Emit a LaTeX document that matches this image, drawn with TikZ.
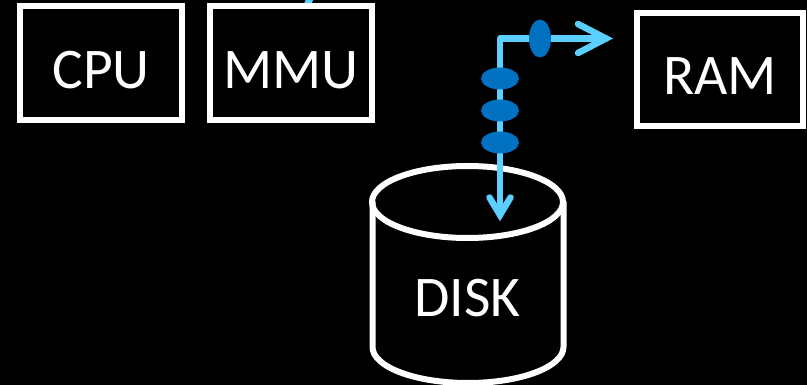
\documentclass[tikz,border=0pt]{standalone}
\usepackage{fontspec}
\setmainfont{Carlito}
\usetikzlibrary{shapes.geometric,calc}
\definecolor{wire}{HTML}{5BCFFF}
\definecolor{packet}{HTML}{0070C0}
\tikzset{
  box/.style={draw=white,line width=6pt,fill=black,minimum width=162pt,minimum height=113.5pt,inner sep=0pt,text=white,font=\fontsize{57.5}{57.5}\selectfont},
  label/.style={text=white,inner sep=0pt,font=\fontsize{57.5}{57.5}\selectfont},
  wireline/.style={draw=wire,line width=6.5pt,line cap=round,line join=round},
  packetv/.style={ellipse,fill=packet,minimum width=38pt,minimum height=22pt,inner sep=0pt},
  packeth/.style={ellipse,fill=packet,minimum width=22pt,minimum height=38pt,inner sep=0pt},
  drum/.style={draw=white,line width=6pt,line cap=round}
}
\begin{document}
\begin{tikzpicture}[x=1pt,y=-1pt]
\useasboundingbox[fill=black] (0,0) rectangle (807,385);
\clip (0,0) rectangle (807,385);
% fragment of a connector entering the MMU from above
\coordinate (fragA) at (311,-3);
\coordinate (fragB) at (305,9);
\draw[wireline,line cap=butt] (fragA) -- (fragB);
% boxes
\node[box] (cpu) at (101,63.25) {\raisebox{-25pt}[0pt][0pt]{CPU}};
\node[box] (mmu) at (291,63.25) {\raisebox{-25pt}[0pt][0pt]{MMU}};
\node[box,minimum width=166pt] (ram) at (720,69.75) {\raisebox{-24.5pt}[0pt][0pt]{RAM}};
% disk
\coordinate (dtl) at (372.5,202);
\coordinate (dtr) at (563.5,202);
\coordinate (dbl) at (372.5,347);
\coordinate (dbr) at (563.5,347);
\draw[drum] (467.5,202) ellipse [x radius=95.5,y radius=36];
\draw[drum] (dtl) -- (dbl) arc[start angle=180,end angle=0,x radius=95.5,y radius=36,] -- (dtr);
\node[label,anchor=base] (disk) at (467.5,316.5) {DISK};
% connector
\coordinate (corner) at (500,38.5);
\coordinate (tipd) at (500,215);
\coordinate (tipr) at (606,38.5);
\coordinate (da) at (489.5,197.5);
\coordinate (db) at (510.5,197.5);
\coordinate (ra) at (578,24);
\coordinate (rb) at (578,53);
\draw[wireline] (tipr) -- (corner) -- (tipd);
\draw[wireline,line join=miter] (da) -- (tipd) -- (db);
\draw[wireline,line join=miter] (ra) -- (tipr) -- (rb);
% packets
\node[packetv] (p1) at (500,78.5) {};
\node[packetv] (p2) at (500,110.5) {};
\node[packetv] (p3) at (500,142.5) {};
\node[packeth] (p4) at (540,38.5) {};
\end{tikzpicture}
\end{document}
